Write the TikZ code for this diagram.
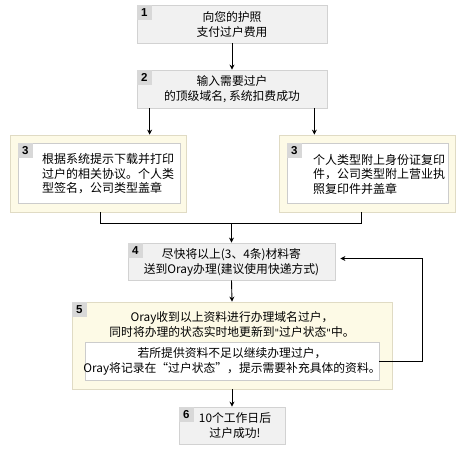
\documentclass[tikz,border=0pt]{standalone}
\usepackage{fontspec}
\setmainfont{Noto Sans CJK SC}
\newfontfamily\qfont{DejaVu Sans}
\newfontfamily\badgefont{Liberation Sans}
\newcommand{\sq}{{\qfont\fontsize{10}{10}\selectfont\char"0022}}
\usetikzlibrary{arrows.meta,calc}
\definecolor{grayfill}{HTML}{F1F1F1}
\definecolor{grayline}{HTML}{D2D2D2}
\definecolor{badgefill}{HTML}{D8D8D8}
\definecolor{creamfill}{HTML}{FDFAE6}
\definecolor{creamline}{HTML}{E0DBC4}
\definecolor{whiteline}{HTML}{CCCCCC}
\tikzset{
  graybox/.style={draw=grayline,fill=grayfill,line width=0.8pt,inner sep=0pt},
  creambox/.style={draw=creamline,fill=creamfill,line width=0.8pt,inner sep=0pt},
  whitebox/.style={draw=whiteline,fill=white,line width=0.8pt,inner sep=0pt},
  badge/.style={fill=badgefill,minimum width=15pt,minimum height=15pt,inner sep=0pt,
    font=\badgefont\bfseries\fontsize{11.5}{11.5}\selectfont,anchor=north west},
  txt/.style={font=\fontsize{11.8}{15}\selectfont,inner sep=0pt,align=center},
  ltxt/.style={font=\fontsize{12}{14.5}\selectfont,inner sep=0pt,align=left,anchor=west},
  conn/.style={line width=0.9pt,black},
  arr/.style={conn,-{Stealth[length=5pt,width=5pt]}}
}
\begin{document}
\begin{tikzpicture}[x=1pt,y=-1pt]
\useasboundingbox (0,0) rectangle (463,456);
% box 1
\node[graybox,minimum width=190pt,minimum height=38pt] (b1) at (232,24) {};
\node[badge] (n1) at (b1.north west) {1};
\node[txt] (t1) at (232,24.5) {向您的护照\\支付过户费用};
% box 2
\node[graybox,minimum width=190pt,minimum height=38pt] (b2) at (232,89) {};
\node[badge] (n2) at (b2.north west) {2};
\node[txt] (t2) at (232,89.5) {输入需要过户\\的顶级域名, 系统扣费成功};
% box 3 left
\node[creambox,minimum width=176pt,minimum height=77pt] (l3o) at (98,173.5) {};
\node[whitebox,minimum width=162pt,minimum height=60pt] (l3i) at (99,173.5) {};
\node[badge] (n3l) at (l3i.north west) {3};
\node[ltxt] (t3l) at (42,174) {根据系统提示下载并打印\\过户的相关协议。个人类\\型签名，公司类型盖章};
% box 3 right
\node[creambox,minimum width=176pt,minimum height=77pt] (r3o) at (367,173.5) {};
\node[whitebox,minimum width=161pt,minimum height=60pt] (r3i) at (367.5,173.5) {};
\node[badge] (n3r) at (r3i.north west) {3};
\node[ltxt] (t3r) at (313,174) {个人类型附上身份证复印\\件，公司类型附上营业执\\照复印件并盖章};
% box 4
\node[graybox,minimum width=207pt,minimum height=37pt] (b4) at (231.5,261.5) {};
\node[badge] (n4) at (b4.north west) {4};
\node[txt] (t4) at (231.5,262) {尽快将以上(3、4条)材料寄\\送到Oray办理(建议使用快递方式)};
% box 5
\node[creambox,minimum width=320pt,minimum height=87pt] (b5) at (232,345.5) {};
\node[badge] (n5) at (b5.north west) {5};
\node[txt] (t5) at (232,325) {Oray收到以上资料进行办理域名过户，\\同时将办理的状态实时地更新到\sq 过户状态\sq 中。};
\node[whitebox,minimum width=294pt,minimum height=38pt] (i5) at (232,361) {};
\node[txt] (t5i) at (232,361.5) {若所提供资料不足以继续办理过户，\\Oray将记录在“过户状态”，提示需要补充具体的资料。};
% box 6
\node[graybox,minimum width=106pt,minimum height=37pt] (b6) at (232,425.5) {};
\node[badge] (n6) at (b6.north west) {6};
\node[txt] (t6) at (235,426) {10个工作日后\\过户成功!};
% connectors
\draw[arr] (b1.south) -- (b2.north);
\draw[arr] ([xshift=13pt]b2.south west) -- ([xshift=13pt]b2.south west |- l3o.north);
\draw[arr] ([xshift=-13pt]b2.south east) -- ([xshift=-13pt]b2.south east |- r3o.north);
\coordinate (join) at ($(b4.north |- l3o.south)+(0,11)$);
\draw[conn] ([xshift=2pt]l3o.south) |- (join) -| ([xshift=-6pt]r3o.south);
\draw[arr] (join) -- (b4.north);
\draw[arr] (b4.south) -- (b5.north);
\draw[arr] (b5.south) -- (b6.north);
\draw[arr] (i5.east) -- ++(43,0) |- ([xshift=5pt,yshift=3pt]b4.east);
\end{tikzpicture}
\end{document}
